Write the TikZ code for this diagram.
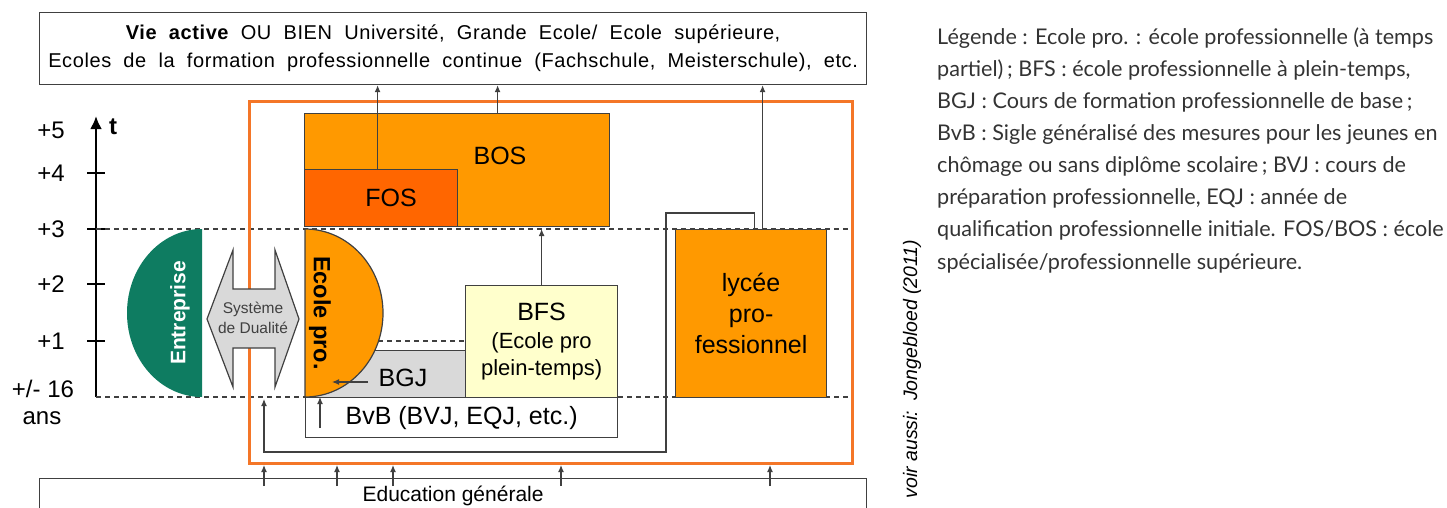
\documentclass[tikz,border=0pt]{standalone}
\usepackage{fontspec}
\setmainfont{Liberation Sans}
\newfontfamily\legendfont{Lato}
\newfontfamily\widefont[LetterSpace=3]{Liberation Sans}
\newcommand\toplinefont{\widefont\fontsize{20}{28}\selectfont\spaceskip=12.2pt\relax}
\usetikzlibrary{arrows.meta,positioning,calc}
\definecolor{boxorange}{RGB}{255,153,0}
\definecolor{fosorange}{RGB}{255,102,0}
\definecolor{frameorange}{RGB}{244,118,40}
\definecolor{firmgreen}{RGB}{14,124,97}
\definecolor{dualgray}{RGB}{217,217,217}
\definecolor{bfsyellow}{RGB}{255,255,204}
\definecolor{edgegray}{RGB}{64,64,64}
\definecolor{legendgray}{RGB}{51,51,51}

\begin{document}
\begin{tikzpicture}[x=1pt,y=-1pt,
  block/.style={draw=edgegray,line width=1.2pt,inner sep=0pt,anchor=north west},
  school/.style={block,fill=boxorange},
  boxtext/.style={inner sep=0pt,font=\fontsize{25}{30}\selectfont},
  yearlab/.style={inner sep=0pt,font=\fontsize{24}{28}\selectfont},
  yearline/.style={dash pattern=on 5pt off 4pt,line width=1.2pt,draw=edgegray},
  arrow/.style={-{Latex[length=7pt,width=6pt]},line width=1.2pt,draw=edgegray}
]
\useasboundingbox (0,0) rectangle (1447,508);
\node[block,minimum width=827,minimum height=72,align=center,font=\toplinefont] (top) at (39,12) {{\bfseries Vie active} OU BIEN Université, Grande Ecole/ Ecole supérieure,\\Ecoles de la formation professionnelle continue (Fachschule, Meisterschule), etc.};
\node[block,minimum width=827,minimum height=34,font=\fontsize{21}{24}\selectfont] (edu) at (39,478) {Education générale};

\draw[line width=2.7pt,-{Latex[length=13pt,width=12pt]}] (96,397) -- (96,116);
\node[inner sep=0pt,font=\bfseries\fontsize{24}{28}\selectfont] (taxis) at (113,127) {t};
\node[yearlab] (lvl5) at (51,130) {+5};
\foreach \y/\lab [count=\i] in {173/+4,229/+3,284/+2,341/+1}{
  \draw[line width=1.3pt] (87,\y) -- (105,\y);
  \node[yearlab] (lvl\i) at (51,\y) {\lab};
}
\node[yearlab] (lvl0) at (43,389) {+/- 16};
\node[yearlab] (ans) at (42,418) {ans};

\draw[yearline] (96,229) -- (850,229);
\draw[yearline] (96,397) -- (850,397);
\draw[yearline] (378,341) -- (465,341);

\node[draw=frameorange,line width=3pt,inner sep=0pt,anchor=north west,minimum width=603,minimum height=362] (frame) at (248,100) {};

\node[school,minimum width=305,minimum height=113] (bos) at (304,113) {};
\node[boxtext] (bostext) at (500,156) {BOS};
\node[block,fill=fosorange,minimum width=153,minimum height=57] (fos) at (304,169) {};
\node[boxtext] (fostext) at (391,198) {FOS};
\node[school,minimum width=151,minimum height=168,align=center,font=\fontsize{25}{31}\selectfont] (lyc) at (675,229) {lycée\\pro-\\fessionnel};
\node[block,fill=bfsyellow,minimum width=152,minimum height=112,align=center,font=\fontsize{22}{27.5}\selectfont] (bfs) at (465,285) {{\fontsize{25}{30}\selectfont BFS}\\(Ecole pro\\plein-temps)};
\node[block,fill=dualgray,minimum width=160,minimum height=47] (bgj) at (305,350) {};
\node[boxtext] (bgjtext) at (403,378) {BGJ};
\node[block,fill=white,minimum width=312,minimum height=40,font=\fontsize{25}{30}\selectfont] (bvb) at (305,397) {BvB (BVJ, EQJ, etc.)};

\fill[firmgreen] (202,229) arc[start angle=-90,end angle=-270,x radius=75,y radius=84] -- cycle;
\node[rotate=90,text=white,font=\bfseries\fontsize{21}{24}\selectfont] (firm) at (180,313) {Entreprise};
\draw[fill=boxorange,draw=edgegray,line width=1.2pt] (305,229) arc[start angle=-90,end angle=90,x radius=78,y radius=84] -- cycle;
\node[rotate=-90,font=\bfseries\fontsize{23.5}{26}\selectfont] (ecole) at (320,313) {Ecole pro.};
\draw[fill=dualgray,draw=edgegray,line width=1.2pt] (207,319) -- (233,250) -- (233,289) -- (275,289) -- (275,250) -- (299,319) -- (275,387) -- (275,348) -- (233,348) -- (233,387) -- cycle;
\node[align=center,text=edgegray,font=\fontsize{15.5}{20}\selectfont] (dual) at (253,318) {Système\\de Dualité};

\coordinate (fosout) at ([xshift=-3.5]fos.north);
\coordinate (bosout) at ([xshift=40.5]bos.north);
\coordinate (lycout) at ([xshift=11.5]lyc.north);
\coordinate (bvbout) at (320,428);
\coordinate (bgjout) at (368,382);
\coordinate (ecolein) at (332,382);
\coordinate (bendA) at (666,213);
\coordinate (bendB) at (264,452);
\coordinate (dualin) at (264,399);
\draw[arrow] (fosout) -- (fosout |- top.south);
\draw[arrow] (bosout) -- (bosout |- top.south);
\draw[arrow] (lycout) -- (lycout |- top.south);
\draw[arrow] (bfs.north) -- (bfs.north |- lyc.north);
\draw[arrow] (bgjout) -- (ecolein);
\draw[arrow] (bvbout) -- (bvbout |- bvb.north);
\draw[arrow] ([xshift=3.5]lyc.north) |- (bendA) |- (bendB) -- (dualin);
\foreach \x [count=\i] in {264,337,393,561,770}{
  \coordinate (up\i) at (\x,486);
  \draw[arrow] (up\i) -- (up\i |- frame.south);
}

\node[rotate=90,font=\itshape\fontsize{19.5}{22}\selectfont] (source) at (912,369) {voir aussi:\enspace Jongebloed (2011)};
\node[anchor=base west,align=left,inner sep=0pt,text=legendgray,font=\legendfont\fontsize{21.6}{32.1}\selectfont] (legend) at (937,269) {Légende : Ecole pro. : école professionnelle (à temps\\partiel)\,; BFS : école professionnelle à plein-temps,\\BGJ : Cours de formation professionnelle de base\,;\\BvB : Sigle généralisé des mesures pour les jeunes en\\chômage ou sans diplôme scolaire\,; BVJ : cours de\\préparation professionnelle, EQJ : année de\\qualification professionnelle initiale. FOS/BOS : école\\spécialisée/professionnelle supérieure.};
\end{tikzpicture}
\end{document}
